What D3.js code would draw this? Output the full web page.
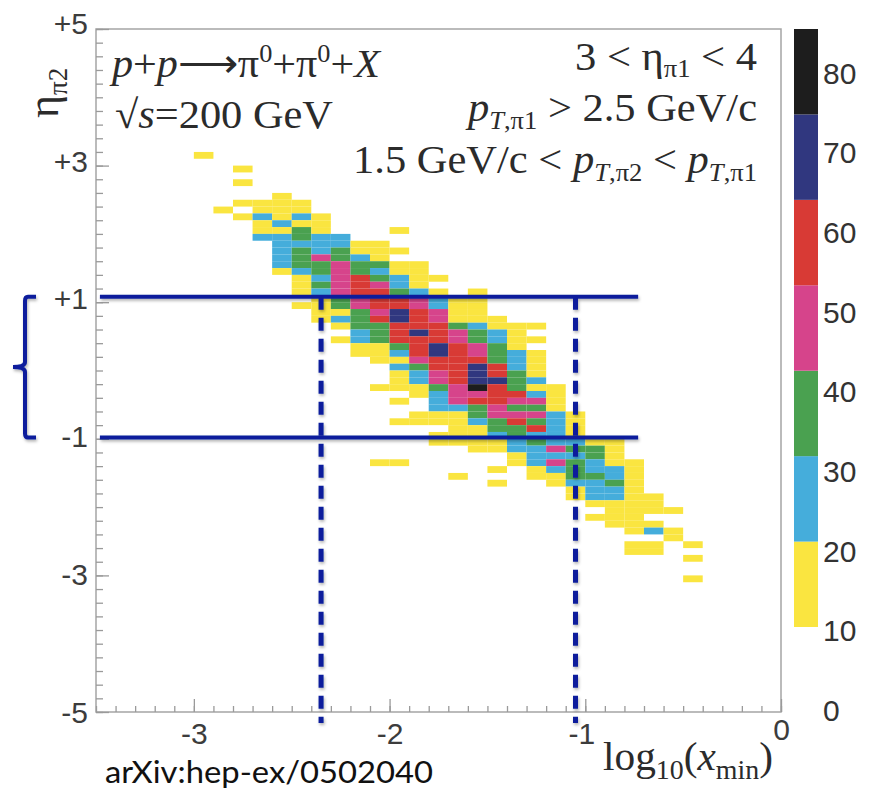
<!DOCTYPE html>
<html>
<head>
<meta charset="utf-8">
<script src="https://cdn.jsdelivr.net/npm/d3@7"></script>
<style>
  body { margin: 0; background: #fff; }
  svg { display: block; }
  .serif { font-family: "Liberation Serif", "Times New Roman", serif; fill: #2b2b2b; }
  .tick line { stroke: #9a9a9a; stroke-width: 1.3; }
</style>
</head>
<body>
<script>
// eta bins (lower edge) with entries, first log10(x_min) bin of the row, counts per 0.1 bin (0 = empty)
const etaLow = [3.1, 2.9, 2.7, 2.5, 2.4, 2.3, 2.2, 2.1, 2.0, 1.9, 1.8, 1.7, 1.6, 1.5, 1.4, 1.3, 1.2, 1.1, 1.0,
  0.9, 0.8, 0.7, 0.6, 0.5, 0.4, 0.3, 0.2, 0.1, 0.0, -0.1, -0.2, -0.3, -0.4, -0.5, -0.6, -0.7, -0.8, -0.9,
  -1.0, -1.1, -1.2, -1.3, -1.4, -1.5, -1.6, -1.7, -1.8, -1.9, -2.0, -2.1, -2.2, -2.3, -2.4, -2.5, -2.6,
  -2.7, -2.8, -3.1];
const xStart = [-3.0, -2.8, -2.8, -2.6, -2.8, -2.9, -2.8, -2.7, -2.7, -2.7, -2.6, -2.6, -2.6, -2.6, -2.6, -2.5, -2.5, -2.5, -2.4,
  -2.5, -2.4, -2.4, -2.3, -2.2, -2.3, -2.2, -2.2, -2.1, -2.0, -2.0, -2.0, -2.1, -1.9, -2.0, -1.8, -1.9, -2.0, -1.7,
  -1.8, -1.8, -1.6, -1.4, -2.1, -1.5, -1.7, -1.5, -1.1, -1.1, -1.0, -0.9, -1.0, -0.9, -0.8, -0.6, -0.8,
  -0.8, -0.5, -0.5];
const rowCounts = [
  [15], [15], [15], [15], [15, 15, 15, 15], [15, 0, 15, 15, 15],
  [15, 25, 15, 25, 15], [15, 25, 15, 15], [15, 15, 35, 15, 0, 0, 0, 15], [25, 25, 35, 25, 25],
  [25, 25, 25, 25, 15, 15], [25, 35, 25, 35, 15, 15, 15], [25, 35, 45, 35, 25, 15],
  [25, 35, 35, 45, 35, 35, 15, 15], [15, 25, 35, 45, 35, 25, 15, 15], [15, 25, 45, 55, 35, 25, 15, 15],
  [15, 35, 45, 55, 45, 25, 15], [15, 25, 45, 55, 55, 35, 25, 15, 0, 15], [15, 35, 45, 55, 55, 45, 25, 15, 15],
  [15, 15, 35, 45, 55, 55, 45, 25, 15, 15], [15, 15, 35, 45, 65, 55, 45, 15, 15],
  [15, 25, 35, 55, 65, 55, 45, 15, 15, 15], [15, 35, 35, 55, 55, 55, 35, 25, 15, 15, 15],
  [25, 35, 55, 65, 55, 45, 35, 25, 15], [15, 25, 35, 55, 55, 55, 45, 35, 25, 15, 15],
  [15, 15, 35, 55, 65, 55, 45, 35, 15], [15, 15, 25, 55, 65, 55, 45, 35, 25, 15],
  [15, 15, 45, 55, 55, 55, 35, 25, 15], [25, 35, 55, 55, 65, 55, 25, 15],
  [15, 25, 45, 55, 65, 55, 35, 15], [15, 25, 45, 55, 65, 65, 35, 25],
  [15, 15, 15, 35, 45, 75, 55, 35, 15, 15], [15, 25, 45, 45, 55, 55, 25, 15],
  [15, 0, 25, 45, 55, 55, 45, 45, 15], [25, 25, 35, 45, 35, 35, 15],
  [15, 15, 15, 35, 45, 45, 45, 25, 15], [15, 15, 15, 15, 25, 35, 55, 35, 25, 15],
  [15, 15, 35, 35, 55, 25, 15], [15, 15, 15, 25, 35, 25, 25, 15],
  [15, 15, 15, 15, 25, 35, 25, 25, 15, 15], [15, 15, 25, 25, 45, 35, 35, 15],
  [15, 25, 25, 25, 35, 15], [15, 15, 0, 0, 0, 0, 0, 15, 25, 45, 35, 25, 15, 15],
  [15, 0, 15, 25, 35, 25, 25, 15], [15, 0, 0, 0, 15, 15, 35, 35, 25, 15],
  [15, 0, 0, 15, 25, 25, 35, 15], [15, 25, 25, 15], [15, 25, 25, 15, 15],
  [15, 15, 15, 15], [15, 15, 15, 15], [15, 15, 15], [15, 15, 15], [15, 25, 15], [15],
  [15, 15, 0, 15], [15, 15], [15], [15]
];

const levels = [10, 20, 30, 40, 50, 60, 70, 80];
const levelColors = ['#fae540', '#45addb', '#4aa150', '#d6448b', '#d83a35', '#30377f', '#1d1d1d'];
const zTicks = [0, 10, 20, 30, 40, 50, 60, 70, 80];
const yTicks = [5, 3, 1, -1, -3, -5];
const xTicks = [-3, -2, -1, 0];
const etaCuts = [1.08, -0.98];
const xCuts = [-2.35, -1.05];
const binW = 0.1;

const W = 875, H = 793;
const svg = d3.select('body').append('svg').attr('width', W).attr('height', H);
const sans = '"Liberation Sans", Arial, sans-serif';

const defs = svg.append('defs');
defs.append('filter').attr('id', 'shadow')
  .attr('x', '-20%').attr('y', '-20%').attr('width', '140%').attr('height', '140%')
  .append('feDropShadow')
  .attr('dx', 1).attr('dy', 2).attr('stdDeviation', 1.5)
  .attr('flood-color', '#000').attr('flood-opacity', 0.3);

const x = d3.scaleLinear().domain([-3.5, 0]).range([96, 781]);
const y = d3.scaleLinear().domain([-5, 5]).range([712, 29]);
const color = d3.scaleThreshold().domain(levels.slice(1, -1)).range(levelColors);

// heatmap cells
const cells = [];
etaLow.forEach((eta, i) => {
  rowCounts[i].forEach((c, j) => {
    if (c > 0) cells.push({ x0: xStart[i] + j * binW, eta: eta, count: c });
  });
});

svg.append('g').selectAll('rect')
  .data(cells)
  .join('rect')
  .attr('x', d => x(d.x0))
  .attr('y', d => y(d.eta + binW))
  .attr('width', d => x(d.x0 + binW) - x(d.x0))
  .attr('height', d => y(d.eta) - y(d.eta + binW))
  .attr('fill', d => color(d.count));

// frame
svg.append('rect')
  .attr('x', x(-3.5)).attr('y', y(5))
  .attr('width', x(0) - x(-3.5)).attr('height', y(-5) - y(5))
  .attr('fill', 'none').attr('stroke', '#a5a5a5').attr('stroke-width', 1.5);

// y axis, ticks inside the frame
const yMinor = d3.range(-5, 5.001, 0.2);
svg.append('g').attr('transform', `translate(${x(-3.5)},0)`)
  .call(d3.axisLeft(y).tickValues(yMinor).tickSize(-7).tickFormat(''))
  .call(g => g.select('.domain').remove());
svg.append('g').attr('transform', `translate(${x(-3.5)},0)`)
  .call(d3.axisLeft(y).tickValues(yTicks).tickSize(-13).tickFormat(''))
  .call(g => g.select('.domain').remove());
// the labels sit a little above their ticks towards the top, as in the original
const yLab = d3.scaleLinear().domain([-5, 5]).range([712, 23]);
svg.append('g').selectAll('text')
  .data(yTicks)
  .join('text')
  .attr('x', 88)
  .attr('y', d => yLab(d))
  .attr('dy', '0.36em')
  .attr('text-anchor', 'end')
  .attr('font-family', sans).attr('font-size', 30).attr('fill', '#3c3c3c')
  .text(d => (d > 0 ? '+' : '') + d);

// x axis
const xMinor = d3.range(-3.5, 0.001, 0.1);
svg.append('g').attr('transform', `translate(0,${y(-5)})`)
  .call(d3.axisBottom(x).tickValues(xMinor).tickSize(-6).tickFormat(''))
  .call(g => g.select('.domain').remove());
svg.append('g').attr('transform', `translate(0,${y(-5)})`)
  .call(d3.axisBottom(x).tickValues(xTicks).tickSize(-13).tickPadding(11)
    .tickFormat(d => d === 0 ? '0' : '-' + Math.abs(d)))
  .call(g => g.select('.domain').remove())
  .call(g => g.selectAll('text')
    .attr('font-family', sans).attr('font-size', 30).attr('fill', '#3c3c3c')
    .attr('dx', d => d === -1 ? -4 : 0)
    .attr('dy', d => d === 0 ? '0.55em' : '0.71em'));

// colour bar
const zBand = d3.scaleLinear().domain([10, 80]).range([627, 29]);
const zAxis = d3.scaleLinear().domain([0, 80]).range([710, 73]);
svg.append('g').selectAll('rect')
  .data(levelColors)
  .join('rect')
  .attr('x', 794)
  .attr('width', 24)
  .attr('y', (d, i) => zBand(levels[i + 1]))
  .attr('height', (d, i) => zBand(levels[i]) - zBand(levels[i + 1]))
  .attr('fill', d => d);
svg.append('g').selectAll('text')
  .data(zTicks)
  .join('text')
  .attr('x', 823)
  .attr('y', d => zAxis(d))
  .attr('dy', '0.36em')
  .attr('font-family', sans)
  .attr('font-size', 30)
  .attr('fill', '#333')
  .text(d => d);

// rich text helper: parts of {t, i (italic), s (size), dy}
function rich(text, parts) {
  parts.forEach(p => {
    const t = text.append('tspan').text(p.t);
    if (p.i) t.attr('font-style', 'italic');
    if (p.s) t.attr('font-size', p.s);
    if (p.dy) t.attr('dy', p.dy);
  });
  return text;
}

const fs = 40, ss = 25;
rich(svg.append('text').attr('class', 'serif').attr('x', 112).attr('y', 77).attr('font-size', fs)
  .attr('textLength', 268).attr('lengthAdjust', 'spacingAndGlyphs'), [
  { t: 'p', i: 1 }, { t: '+' }, { t: 'p', i: 1 }, { t: '\u27f6\u03c0' },
  { t: '0', s: ss, dy: -15 }, { t: '+\u03c0', dy: 15 }, { t: '0', s: ss, dy: -15 },
  { t: '+', dy: 15 }, { t: 'X', i: 1 }
]);
rich(svg.append('text').attr('class', 'serif').attr('x', 115).attr('y', 128).attr('font-size', fs)
  .attr('textLength', 218).attr('lengthAdjust', 'spacingAndGlyphs'), [
  { t: '\u221a' }, { t: 's', i: 1 }, { t: '=200 GeV' }
]);

rich(svg.append('text').attr('class', 'serif').attr('x', 757).attr('y', 70).attr('font-size', fs)
  .attr('text-anchor', 'end').attr('textLength', 182).attr('lengthAdjust', 'spacingAndGlyphs'), [
  { t: '3 < \u03b7' }, { t: '\u03c01', s: ss, dy: 7 }, { t: ' < 4', dy: -7 }
]);
rich(svg.append('text').attr('class', 'serif').attr('x', 757).attr('y', 121).attr('font-size', fs)
  .attr('text-anchor', 'end').attr('textLength', 289).attr('lengthAdjust', 'spacingAndGlyphs'), [
  { t: 'p', i: 1 }, { t: 'T', i: 1, s: ss, dy: 8 }, { t: ',\u03c01', s: ss },
  { t: ' > 2.5 GeV/c', dy: -8 }
]);
rich(svg.append('text').attr('class', 'serif').attr('x', 757).attr('y', 173).attr('font-size', fs)
  .attr('text-anchor', 'end').attr('textLength', 404).attr('lengthAdjust', 'spacingAndGlyphs'), [
  { t: '1.5 GeV/c < ' }, { t: 'p', i: 1 }, { t: 'T', i: 1, s: ss, dy: 8 }, { t: ',\u03c02', s: ss },
  { t: ' < ', dy: -8 }, { t: 'p', i: 1 }, { t: 'T', i: 1, s: ss, dy: 8 }, { t: ',\u03c01', s: ss }
]);

// axis titles
rich(svg.append('text').attr('class', 'serif').attr('transform', 'translate(58,118) rotate(-90)')
  .attr('font-size', 44), [
  { t: '\u03b7' }, { t: '\u03c02', s: 27, dy: 9 }
]);
rich(svg.append('text').attr('class', 'serif').attr('x', 773).attr('y', 770).attr('font-size', 40)
  .attr('text-anchor', 'end').attr('textLength', 170).attr('lengthAdjust', 'spacingAndGlyphs'), [
  { t: 'log' }, { t: '10', s: 27, dy: 9 }, { t: '(', dy: -9 }, { t: 'x', i: 1 },
  { t: 'min', s: 27, dy: 9 }, { t: ')', dy: -9 }
]);

svg.append('text')
  .attr('x', 105).attr('y', 783)
  .attr('font-family', 'Lato, "Open Sans", sans-serif')
  .attr('font-size', 30).attr('fill', '#111')
  .attr('textLength', 328).attr('lengthAdjust', 'spacingAndGlyphs')
  .text('arXiv:hep-ex/0502040');

// overlay: eta window and x range markers
const blue = '#0b1f9c';
const over = svg.append('g').attr('filter', 'url(#shadow)');
over.selectAll('line.h')
  .data(etaCuts)
  .join('line')
  .attr('class', 'h')
  .attr('x1', x(-3.48)).attr('x2', x(-0.73))
  .attr('y1', d => y(d)).attr('y2', d => y(d))
  .attr('stroke', blue).attr('stroke-width', 4);
over.selectAll('line.v')
  .data(xCuts)
  .join('line')
  .attr('class', 'v')
  .attr('x1', d => x(d)).attr('x2', d => x(d))
  .attr('y1', y(etaCuts[0])).attr('y2', y(-5.16))
  .attr('stroke', blue).attr('stroke-width', 5)
  .attr('stroke-dasharray', '13 8');

// bracket on the left
const yTop = y(etaCuts[0]), yBot = y(etaCuts[1]), yMid = (yTop + yBot) / 2;
over.append('path')
  .attr('d', `M36,${yTop} L28,${yTop} Q25,${yTop} 25,${yTop + 4} L25,${yMid - 5} Q25,${yMid} 13,${yMid}` +
    ` Q25,${yMid} 25,${yMid + 5} L25,${yBot - 4} Q25,${yBot} 28,${yBot} L36,${yBot}`)
  .attr('fill', 'none').attr('stroke', blue).attr('stroke-width', 4);
</script>
</body>
</html>
